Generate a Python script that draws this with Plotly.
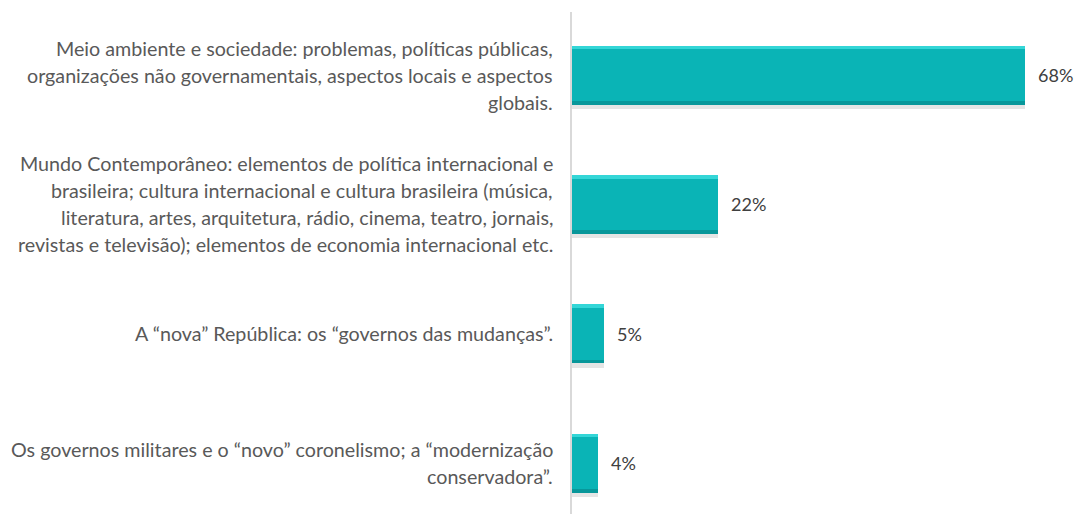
import plotly.graph_objects as go

# ── Data ────────────────────────────────────────────────────────────────────────
categories = [
    "Meio ambiente e sociedade: problemas, políticas públicas,<br>"
    "organizações não governamentais, aspectos locais e aspectos<br>"
    "globais.",
    "Mundo Contemporâneo: elementos de política internacional e<br>"
    "brasileira; cultura internacional e cultura brasileira (música,<br>"
    "literatura, artes, arquitetura, rádio, cinema, teatro, jornais,<br>"
    "revistas e televisão); elementos de economia internacional etc.",
    "A “nova” República: os “governos das mudanças”.",
    "Os governos militares e o “novo” coronelismo; a “modernização<br>"
    "conservadora”.",
]
values = [68, 22, 5, 4]
value_labels = ["68%", "22%", "5%", "4%"]

BAR = "#0AB4B6"
LIGHT = "#34D6D7"
DARK = "#08979A"
LABEL_FONT = dict(family="Lato, sans-serif", size=19.7, color="#595959")
VALUE_FONT = dict(family="Lato, sans-serif", size=18, color="#404040")
LINE_GAP = 27
W = 0.456      # bar thickness (category units)
EDGE_W = 0.028

pos = list(range(len(values)))
fig = go.Figure()

# soft shadow under each bar
fig.add_trace(go.Bar(
    x=values, y=pos, orientation="h", width=W, offset=-W / 2 + 0.035,
    marker=dict(color="rgba(0,0,0,0.10)", line_width=0),
    hoverinfo="skip", showlegend=False,
))
# main bar
fig.add_trace(go.Bar(
    x=values, y=pos, orientation="h", width=W, offset=-W / 2,
    marker=dict(color=BAR, line_width=0),
    showlegend=False,
))
# bevel highlights: light top edge, dark bottom edge
fig.add_trace(go.Bar(
    x=values, y=pos, orientation="h", width=EDGE_W, offset=-W / 2,
    marker=dict(color=LIGHT, line_width=0),
    hoverinfo="skip", showlegend=False,
))
fig.add_trace(go.Bar(
    x=values, y=pos, orientation="h", width=EDGE_W, offset=W / 2 - EDGE_W,
    marker=dict(color=DARK, line_width=0),
    hoverinfo="skip", showlegend=False,
))

fig.update_layout(barmode="overlay")

# value labels to the right of each bar
for i, (v, lab) in enumerate(zip(values, value_labels)):
    fig.add_annotation(
        x=v, y=i, xref="x", yref="y", text=lab, showarrow=False,
        xanchor="left", yanchor="middle", xshift=11, font=VALUE_FONT,
    )

# category labels: one annotation per line, centred within the block
for i, cat in enumerate(categories):
    lines = cat.split("<br>")
    n = len(lines)
    for j, line in enumerate(lines):
        fig.add_annotation(
            x=0, y=i, xref="paper", yref="y",
            text=line, showarrow=False,
            xanchor="right", yanchor="middle",
            xshift=-16, yshift=-(j - (n - 1) / 2) * LINE_GAP,
            font=LABEL_FONT,
        )

# vertical axis line
fig.add_shape(type="line", xref="paper", yref="paper",
              x0=0, x1=0, y0=0, y1=1.0,
              line=dict(color="#D9D9D9", width=2))

# page adds an 8px body margin, so the figure is offset by that amount
fig.update_layout(
    width=1067, height=506,
    margin=dict(l=563, r=1, t=4, b=0),
    paper_bgcolor="white", plot_bgcolor="white",
    xaxis=dict(range=[0, 75.3], visible=False),
    yaxis=dict(range=[3.394, -0.488], visible=False),
    bargap=0,
)

fig.write_html("out.html")
